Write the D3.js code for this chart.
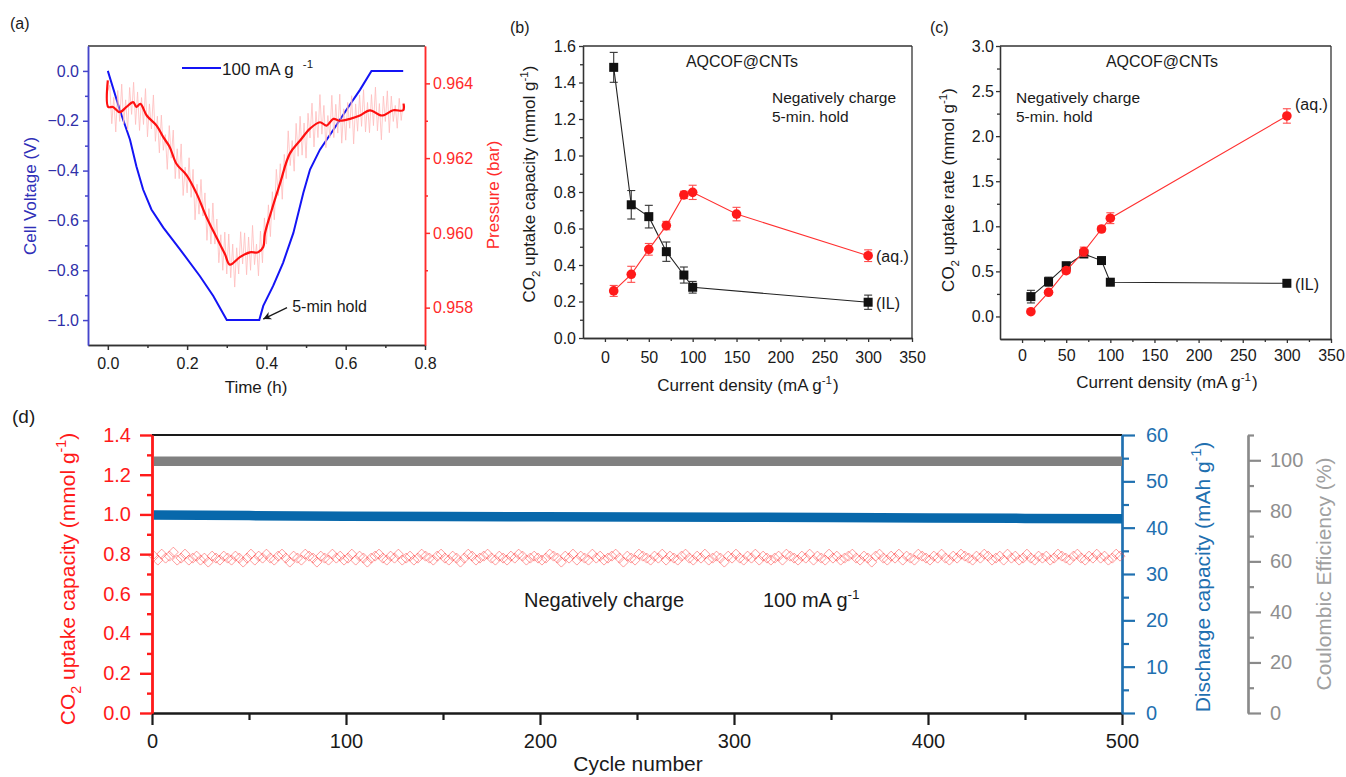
<!DOCTYPE html>
<html>
<head>
<meta charset="utf-8">
<script src="https://cdn.jsdelivr.net/npm/d3@7"></script>
<style>
  body { margin: 0; background: #fff; }
  svg { display: block; }
</style>
</head>
<body>
<script>
// ---------- panel (a): voltage / pressure vs time ----------
const voltageTime = [0, 0.03, 0.056, 0.072, 0.089, 0.11, 0.14, 0.182, 0.232, 0.266, 0.3, 0.382, 0.392, 0.417, 0.442, 0.468, 0.493, 0.51, 0.535, 0.569, 0.602, 0.636, 0.665, 0.745]
const voltage = [0, -0.156, -0.276, -0.383, -0.476, -0.556, -0.629, -0.716, -0.823, -0.903, -1.0, -1.0, -0.943, -0.863, -0.77, -0.65, -0.49, -0.396, -0.316, -0.236, -0.156, -0.076, 0, 0]

const pressureTime = [0, 0.001, 0.013, 0.03, 0.047, 0.064, 0.072, 0.082, 0.098, 0.123, 0.14, 0.156, 0.173, 0.199, 0.224, 0.249, 0.274, 0.295, 0.308, 0.333, 0.358, 0.379, 0.392, 0.396, 0.413, 0.434, 0.459, 0.485, 0.51, 0.535, 0.552, 0.569, 0.585, 0.611, 0.636, 0.661, 0.691, 0.72, 0.745, 0.746]
const pressure = [0.96408, 0.96337, 0.96337, 0.96323, 0.96337, 0.9635, 0.96337, 0.96345, 0.96314, 0.96287, 0.96256, 0.9623, 0.96185, 0.96154, 0.96105, 0.96042, 0.95988, 0.95944, 0.95915, 0.95935, 0.95948, 0.95948, 0.95962, 0.95997, 0.9606, 0.96131, 0.96212, 0.96247, 0.96279, 0.96296, 0.96287, 0.96305, 0.963, 0.96305, 0.96314, 0.96328, 0.96314, 0.96328, 0.96328, 0.96346]

// raw pressure trace, one sample every 0.005 h
const rawStep = 0.005
const pressureRaw = [
  0.9638, 0.96395, 0.96292, 0.96363, 0.9627, 0.96381, 0.96298, 0.96398, 0.96292, 0.96356,
  0.96275, 0.96389, 0.96317, 0.96403, 0.9629, 0.96377, 0.96274, 0.96362, 0.9629, 0.96386,
  0.96257, 0.96345, 0.96278, 0.96369, 0.96245, 0.96312, 0.96214, 0.96315, 0.96221, 0.96263,
  0.9617, 0.96287, 0.962, 0.96275, 0.96145, 0.96225, 0.96145, 0.96238, 0.961, 0.96176,
  0.96107, 0.96201, 0.96095, 0.9617, 0.96035, 0.9613, 0.9605, 0.96143, 0.96045, 0.96107,
  0.9598, 0.96065, 0.9597, 0.9608, 0.9597, 0.96037, 0.9592, 0.95995, 0.959, 0.96002,
  0.9589, 0.95997, 0.9588, 0.9597, 0.95855, 0.9596, 0.9589, 0.96003, 0.95917, 0.96,
  0.95888, 0.95989, 0.959, 0.9602, 0.95915, 0.9597, 0.95885, 0.96005, 0.9592, 0.9604,
  0.9597, 0.96075, 0.9599, 0.9611, 0.96035, 0.9617, 0.961, 0.96185, 0.9609, 0.9621,
  0.96145, 0.96273, 0.9618, 0.96247, 0.96165, 0.96293, 0.96205, 0.96312, 0.96208, 0.96294,
  0.962, 0.9632, 0.96254, 0.96347, 0.9623, 0.96325, 0.96255, 0.9637, 0.96264, 0.96341,
  0.96228, 0.96314, 0.96255, 0.96368, 0.96255, 0.96344, 0.96267, 0.96371, 0.9624, 0.96332,
  0.96248, 0.96349, 0.9628, 0.96367, 0.96238, 0.96345, 0.96272, 0.96369, 0.96285, 0.96383,
  0.9627, 0.96349, 0.96268, 0.9637, 0.96287, 0.9639, 0.96273, 0.96346, 0.96249, 0.96366,
  0.96298, 0.9638, 0.96268, 0.96366, 0.96298, 0.96341, 0.9628, 0.9636, 0.96301, 0.96348
]

const timeTicks = [0, 0.2, 0.4, 0.6, 0.8]
const timeMinor = [0.1, 0.3, 0.5, 0.7]
const voltTicks = [-1.0, -0.8, -0.6, -0.4, -0.2, 0.0]
const voltMinor = [-0.9, -0.7, -0.5, -0.3, -0.1]
const presTicks = [0.958, 0.96, 0.962, 0.964]
const presMinor = [0.959, 0.961, 0.963]

// ---------- panels (b) and (c): vs current density ----------
const densityIL = [10, 30, 50, 70, 90, 100, 300]
const capIL = [1.483, 0.73, 0.665, 0.473, 0.345, 0.278, 0.196]
const capILErr = [0.082, 0.078, 0.062, 0.053, 0.044, 0.032, 0.039]
const densityAqB = [10, 30, 50, 70, 90, 100, 150, 300]
const capAq = [0.258, 0.349, 0.486, 0.616, 0.784, 0.798, 0.679, 0.451]
const capAqErr = [0.03, 0.044, 0.032, 0.023, 0.02, 0.039, 0.037, 0.032]

const densityC = [10, 30, 50, 70, 90, 100, 300]
const rateIL = [0.22, 0.386, 0.563, 0.693, 0.62, 0.38, 0.368]
const rateILErr = [0.07, 0.05, 0.03, 0.03, 0.02, 0.02, 0.02]
const rateAq = [0.053, 0.268, 0.508, 0.719, 0.97, 1.09, 2.224]
const rateAqErr = [0.02, 0.02, 0.03, 0.05, 0.03, 0.06, 0.08]

const densityTicks = [0, 50, 100, 150, 200, 250, 300, 350]
const densityMinor = [25, 75, 125, 175, 225, 275, 325]
const capTicks = [0, 0.2, 0.4, 0.6, 0.8, 1.0, 1.2, 1.4, 1.6]
const capMinor = [0.1, 0.3, 0.5, 0.7, 0.9, 1.1, 1.3, 1.5]
const rateTicks = [0, 0.5, 1.0, 1.5, 2.0, 2.5, 3.0]
const rateMinor = [0.25, 0.75, 1.25, 1.75, 2.25, 2.75]

// ---------- panel (d): cycling ----------
const bandCycles = [1, 50, 100, 150, 200, 250, 300, 350, 400, 450, 500]
const discharge = [42.75, 42.6, 42.45, 42.4, 42.35, 42.3, 42.25, 42.2, 42.1, 42.0, 41.9]
const coulombic = [99.6, 99.6, 99.6, 99.6, 99.6, 99.6, 99.6, 99.6, 99.6, 99.6, 99.6]

const uptakeCycles = d3.range(1, 500, 2)
const uptake = [
  0.79,0.77,0.80,0.78,0.79,0.81,0.77,0.78,0.80,0.77, 0.78,0.79,0.77,0.78,0.76,0.79,0.78,0.77,0.79,0.78,
  0.77,0.79,0.78,0.76,0.78,0.80,0.77,0.79,0.78,0.80, 0.78,0.77,0.79,0.80,0.78,0.76,0.79,0.78,0.77,0.80,
  0.79,0.78,0.76,0.79,0.78,0.77,0.80,0.78,0.79,0.77, 0.78,0.80,0.77,0.79,0.78,0.76,0.78,0.79,0.80,0.78,
  0.77,0.79,0.78,0.80,0.77,0.78,0.79,0.77,0.78,0.80, 0.79,0.78,0.77,0.79,0.80,0.78,0.77,0.79,0.78,0.76,
  0.78,0.80,0.79,0.77,0.78,0.79,0.80,0.78,0.77,0.79, 0.78,0.77,0.79,0.78,0.80,0.79,0.77,0.78,0.79,0.78,
  0.77,0.78,0.80,0.79,0.78,0.76,0.79,0.78,0.80,0.77, 0.79,0.78,0.77,0.80,0.78,0.79,0.77,0.78,0.79,0.80,
  0.78,0.76,0.79,0.78,0.77,0.80,0.79,0.78,0.77,0.79, 0.78,0.80,0.77,0.79,0.78,0.77,0.79,0.80,0.78,0.77,
  0.79,0.78,0.80,0.77,0.78,0.79,0.78,0.76,0.79,0.78, 0.80,0.78,0.77,0.79,0.78,0.80,0.77,0.79,0.78,0.77,
  0.78,0.79,0.77,0.80,0.79,0.78,0.77,0.79,0.78,0.80, 0.77,0.79,0.78,0.77,0.80,0.78,0.79,0.77,0.78,0.79,
  0.80,0.78,0.77,0.79,0.78,0.76,0.79,0.80,0.78,0.77, 0.79,0.78,0.80,0.77,0.79,0.78,0.77,0.80,0.79,0.78,
  0.77,0.79,0.78,0.80,0.78,0.77,0.79,0.78,0.80,0.79, 0.78,0.77,0.79,0.78,0.80,0.79,0.77,0.78,0.79,0.77,
  0.80,0.78,0.79,0.77,0.78,0.80,0.78,0.77,0.79,0.78, 0.79,0.77,0.78,0.80,0.79,0.78,0.77,0.79,0.80,0.78,
  0.77,0.79,0.78,0.80,0.78,0.79,0.77,0.78,0.80,0.79
]

const cycleTicks = [0, 100, 200, 300, 400, 500]
const cycleMinor = [50, 150, 250, 350, 450]
const uptakeTicks = [0, 0.2, 0.4, 0.6, 0.8, 1.0, 1.2, 1.4]
const uptakeMinor = [0.1, 0.3, 0.5, 0.7, 0.9, 1.1, 1.3]
const dischargeTicks = [0, 10, 20, 30, 40, 50, 60]
const dischargeMinor = [5, 15, 25, 35, 45, 55]
const ceTicks = [0, 20, 40, 60, 80, 100]
const ceMinor = [10, 30, 50, 70, 90, 110]

// ======================================================
const FONT = "'Liberation Sans', Arial, Helvetica, sans-serif"
const INK = "#1a1a1a"

const svg = d3.select("body").append("svg")
    .attr("width", 1346)
    .attr("height", 777)
    .style("font-family", FONT)

const defs = svg.append("defs")
defs.append("marker")
    .attr("id", "arrow")
    .attr("viewBox", "0 0 10 10")
    .attr("refX", 10).attr("refY", 5)
    .attr("markerWidth", 11).attr("markerHeight", 8)
    .attr("markerUnits", "userSpaceOnUse")
    .attr("orient", "auto")
  .append("path")
    .attr("d", "M0,0 L10,5 L0,10 L3,5 Z")
    .attr("fill", INK)

function drawAxis ({ orient, scale, at, major, minor, len, minorLen, pad, fmt, stroke, fill, size, width }) {
    const make = { left: d3.axisLeft, right: d3.axisRight, bottom: d3.axisBottom }[orient]
    const a = svg.append("g").attr("transform", at)
    a.append("g").call(make(scale).tickValues(minor).tickSize(minorLen).tickFormat("").tickSizeOuter(0))
    a.append("g").call(make(scale).tickValues(major).tickSize(len).tickPadding(pad).tickFormat(fmt).tickSizeOuter(0))
    a.selectAll("path.domain").attr("stroke", stroke).attr("stroke-width", width)
    a.selectAll(".tick line").attr("stroke", stroke).attr("stroke-width", width)
    a.selectAll(".tick text")
        .attr("fill", fill)
        .style("font-family", FONT)
        .style("font-size", size + "px")
    return a
}

// text with sub/superscript parts: [[text, kind, dx]]
function label (x, y, parts, { size = 16, fill = INK, anchor = "start", rotate = 0 } = {}) {
    const t = svg.append("text")
        .attr("transform", `translate(${x},${y}) rotate(${rotate})`)
        .attr("text-anchor", anchor)
        .attr("fill", fill)
        .style("font-size", size + "px")
    if (typeof parts === "string") parts = [[parts]]
    let shift = 0
    parts.forEach(([s, kind, dx]) => {
        const target = kind === "sub" ? size * 0.3 : kind === "sup" ? -size * 0.42 : 0
        const ts = t.append("tspan").text(s).attr("dy", target - shift)
        if (dx) ts.attr("dx", dx)
        if (kind) ts.style("font-size", (size * 0.68) + "px")
        shift = target
    })
    return t
}

function hline (x1, x2, y, stroke, width) {
    svg.append("line").attr("x1", x1).attr("x2", x2).attr("y1", y).attr("y2", y)
        .attr("stroke", stroke).attr("stroke-width", width)
}
function vline (x, y1, y2, stroke, width) {
    svg.append("line").attr("x1", x).attr("x2", x).attr("y1", y1).attr("y2", y2)
        .attr("stroke", stroke).attr("stroke-width", width)
}

// ======================= (a) =======================
const xA = d3.scaleLinear().domain([-0.05, 0.8]).range([88, 425])
const yV = d3.scaleLinear().domain([-1.1, 0.1]).range([345, 46])
const yP = d3.scaleLinear().domain([0.957, 0.965]).range([345, 46])

const vBlue = "#4545cc", vText = "#2f2fa8", pRed = "#ff2a2a"

hline(88, 425, 46, "#333", 1.5)
drawAxis({ orient: "bottom", scale: xA, at: "translate(0,345)", major: timeTicks, minor: timeMinor,
    len: 5, minorLen: 3, pad: 8, fmt: d3.format(".1f"), stroke: "#333", fill: INK, size: 16, width: 1.5 })
drawAxis({ orient: "left", scale: yV, at: "translate(88,0)", major: voltTicks, minor: voltMinor,
    len: 5, minorLen: 3, pad: 4, fmt: d3.format(".1f"), stroke: vBlue, fill: vText, size: 16, width: 1.5 })
drawAxis({ orient: "right", scale: yP, at: "translate(425,0)", major: presTicks, minor: presMinor,
    len: 5, minorLen: 3, pad: 3, fmt: d3.format(".3f"), stroke: pRed, fill: pRed, size: 16, width: 1.5 })

svg.append("path")
    .attr("d", d3.line().x((d, i) => xA(voltageTime[i])).y(d => yV(d))(voltage))
    .attr("fill", "none").attr("stroke", "#1414f5").attr("stroke-width", 2)

svg.append("path")
    .attr("d", d3.line().x((d, i) => xA(i * rawStep)).y(d => yP(d))(pressureRaw))
    .attr("fill", "none").attr("stroke", "#ffbcbc").attr("stroke-width", 0.9).attr("opacity", 0.9)

svg.append("path")
    .attr("d", d3.line().curve(d3.curveCatmullRom).x((d, i) => xA(pressureTime[i])).y(d => yP(d))(pressure))
    .attr("fill", "none").attr("stroke", "#ff1010").attr("stroke-width", 2.2)

// legend
svg.append("line").attr("x1", 182).attr("x2", 221).attr("y1", 68).attr("y2", 68)
    .attr("stroke", "#1414f5").attr("stroke-width", 2)
label(222, 75, [["100 mA g"], ["-1", "sup", 9]], { size: 17 })

// 5-min hold annotation
svg.append("line")
    .attr("x1", xA(0.452)).attr("y1", yV(-0.95))
    .attr("x2", xA(0.392)).attr("y2", yV(-0.996))
    .attr("stroke", INK).attr("stroke-width", 1.3)
    .attr("marker-end", "url(#arrow)")
label(xA(0.465), yV(-0.968), "5-min hold", { size: 16 })

label(10, 29, "(a)", { size: 16 })
label(256, 393, "Time (h)", { size: 17, anchor: "middle" })
label(35.5, 196, "Cell Voltage (V)", { size: 17, anchor: "middle", rotate: -90, fill: "#3030b8" })
label(499, 195, "Pressure (bar)", { size: 17, anchor: "middle", rotate: -90, fill: pRed })

// ======================= (b) and (c) =======================
function drawSeries (x, y, xs, vals, errs, kind) {
    const col = kind === "IL" ? "#111" : "#ff1a1a"
    const errCol = kind === "IL" ? "#333" : "#ff4d4d"
    svg.append("path")
        .attr("d", d3.line().x((d, i) => x(xs[i])).y(d => y(d))(vals))
        .attr("fill", "none").attr("stroke", kind === "IL" ? "#222" : "#ff3030").attr("stroke-width", 1.1)
    const g = svg.append("g")
    vals.forEach((v, i) => {
        const cx = x(xs[i])
        g.append("line").attr("x1", cx).attr("x2", cx).attr("y1", y(v - errs[i])).attr("y2", y(v + errs[i]))
            .attr("stroke", errCol).attr("stroke-width", 1.1)
        ;[v - errs[i], v + errs[i]].forEach(e => {
            g.append("line").attr("x1", cx - 4).attr("x2", cx + 4).attr("y1", y(e)).attr("y2", y(e))
                .attr("stroke", errCol).attr("stroke-width", 1.1)
        })
        if (kind === "IL") {
            g.append("rect").attr("x", cx - 4.5).attr("y", y(v) - 4.5).attr("width", 9).attr("height", 9)
                .attr("fill", col)
        } else {
            g.append("circle").attr("cx", cx).attr("cy", y(v)).attr("r", 4.8).attr("fill", col)
        }
    })
}

function framePanel (x, y, yTicks, yMinor, left, right, top, bottom, padY, padX) {
    hline(left, right, top, "#333", 1.3)
    vline(right, top, bottom, "#333", 1.3)
    drawAxis({ orient: "bottom", scale: x, at: `translate(0,${bottom})`, major: densityTicks, minor: densityMinor,
        len: 4, minorLen: 3, pad: padX, fmt: d3.format("d"), stroke: "#333", fill: INK, size: 16, width: 1.3 })
    drawAxis({ orient: "left", scale: y, at: `translate(${left},0)`, major: yTicks, minor: yMinor,
        len: 4, minorLen: 3, pad: padY, fmt: d3.format(".1f"), stroke: "#333", fill: INK, size: 16, width: 1.3 })
}

// (b)
const xB = d3.scaleLinear().domain([-25, 350]).range([583, 912])
const yB = d3.scaleLinear().domain([0, 1.6]).range([338, 46])
framePanel(xB, yB, capTicks, capMinor, 583, 912, 46, 338, 3, 10)
drawSeries(xB, yB, densityIL, capIL, capILErr, "IL")
drawSeries(xB, yB, densityAqB, capAq, capAqErr, "aq")

label(510, 33, "(b)", { size: 16 })
label(742, 67, "AQCOF@CNTs", { size: 16, anchor: "middle" })
label(772, 103, "Negatively charge", { size: 15.5 })
label(772, 122, "5-min. hold", { size: 15.5 })
label(876, 262, "(aq.)", { size: 16 })
label(876, 309, "(IL)", { size: 16 })
label(748, 391, [["Current density (mA g"], ["-1", "sup"], [")", "", 1]], { size: 17, anchor: "middle" })
label(535, 184, [["CO"], ["2", "sub"], [" uptake capacity (mmol g"], ["-1", "sup"], [")"]],
    { size: 17, anchor: "middle", rotate: -90 })

// (c)
const xC = d3.scaleLinear().domain([-25, 350]).range([1000, 1331])
const yC = d3.scaleLinear().domain([-0.25, 3.0]).range([339, 46])
framePanel(xC, yC, rateTicks, rateMinor, 1000, 1331, 46, 339, 2, 7)
drawSeries(xC, yC, densityC, rateIL, rateILErr, "IL")
drawSeries(xC, yC, densityC, rateAq, rateAqErr, "aq")

label(930, 33, "(c)", { size: 16 })
label(1162, 67, "AQCOF@CNTs", { size: 16, anchor: "middle" })
label(1016, 103, "Negatively charge", { size: 15.5 })
label(1016, 122, "5-min. hold", { size: 15.5 })
label(1295, 110, "(aq.)", { size: 16 })
label(1295, 290, "(IL)", { size: 16 })
label(1167, 388, [["Current density (mA g"], ["-1", "sup"], [")", "", 1]], { size: 17, anchor: "middle" })
label(954, 190, [["CO"], ["2", "sub"], [" uptake rate (mmol g"], ["-1", "sup"], [")"]],
    { size: 17, anchor: "middle", rotate: -90 })

// ======================= (d) =======================
const xD = d3.scaleLinear().domain([0, 500]).range([152, 1122])
const yD = d3.scaleLinear().domain([0, 1.4]).range([713, 435])
const yDis = d3.scaleLinear().domain([0, 60]).range([713, 435])
const yCE = d3.scaleLinear().domain([0, 110]).range([713, 435])

const dRed = "#ff1a1a", dBlue = "#1f70b0", dGray = "#8a8a8a"

hline(152, 1122, 435, INK, 2.2)
drawAxis({ orient: "bottom", scale: xD, at: "translate(0,713)", major: cycleTicks, minor: cycleMinor,
    len: 12, minorLen: 7, pad: 9, fmt: d3.format("d"), stroke: INK, fill: INK, size: 20, width: 2.2 })
drawAxis({ orient: "left", scale: yD, at: "translate(152,0)", major: uptakeTicks, minor: uptakeMinor,
    len: 12, minorLen: 5, pad: 9, fmt: d3.format(".1f"), stroke: dRed, fill: dRed, size: 20, width: 2.4 })
drawAxis({ orient: "right", scale: yDis, at: "translate(1122,0)", major: dischargeTicks, minor: dischargeMinor,
    len: 13, minorLen: 7, pad: 11, fmt: d3.format("d"), stroke: dBlue, fill: dBlue, size: 20, width: 2.2 })
drawAxis({ orient: "right", scale: yCE, at: "translate(1248,0)", major: ceTicks, minor: ceMinor,
    len: 13, minorLen: 6, pad: 9, fmt: d3.format("d"), stroke: dGray, fill: "#8f8f8f", size: 20, width: 2.2 })

svg.append("path")
    .attr("d", d3.line().x((d, i) => xD(bandCycles[i])).y(d => yCE(d))(coulombic))
    .attr("fill", "none").attr("stroke", "#808080").attr("stroke-width", 9.5)
svg.append("path")
    .attr("d", d3.line().x((d, i) => xD(bandCycles[i])).y(d => yDis(d))(discharge))
    .attr("fill", "none").attr("stroke", "#0868ab").attr("stroke-width", 9.5)

svg.append("g").selectAll("path")
    .data(uptake)
    .join("path")
    .attr("transform", (d, i) => `translate(${xD(uptakeCycles[i])},${yD(d)})`)
    .attr("d", "M0,-5L5,0L0,5L-5,0Z")
    .attr("fill", "none")
    .attr("stroke", "#ff4040")
    .attr("stroke-width", 0.7)
    .attr("opacity", 0.75)

label(12, 423, "(d)", { size: 19 })
label(524, 607, "Negatively charge", { size: 20 })
label(763, 607, [["100 mA g"], ["-1", "sup"]], { size: 20 })
label(638, 771, "Cycle number", { size: 21, anchor: "middle" })
label(75, 579, [["CO"], ["2", "sub"], [" uptake capacity (mmol g"], ["-1", "sup"], [")"]],
    { size: 21, anchor: "middle", rotate: -90, fill: dRed })
label(1210, 577, [["Discharge capacity (mAh g"], ["-1", "sup"], [")"]],
    { size: 21, anchor: "middle", rotate: -90, fill: dBlue })
label(1331, 574, "Coulombic Efficiency (%)", { size: 21, anchor: "middle", rotate: -90, fill: "#a0a0a0" })
</script>
</body>
</html>
